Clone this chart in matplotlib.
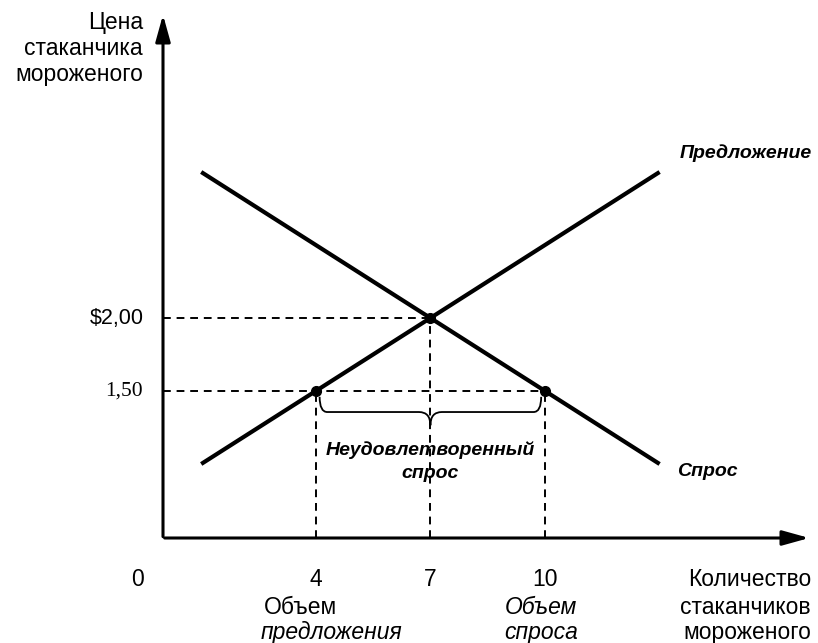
import matplotlib.pyplot as plt
from matplotlib.path import Path
from matplotlib.patches import PathPatch

plt.rcParams['font.family'] = ['Liberation Sans', 'DejaVu Sans']

# Data
supply_q = [1, 13]
supply_p = [1.0, 3.0]
demand_q = [1, 13]
demand_p = [3.0, 1.0]
eq_q, eq_p = 7, 2.0
low_p = 1.5
qs_low, qd_low = 4, 10
tick_q = [0, 4, 7, 10]
tick_q_labels = ['0', '4', '7', '10']

# pixel -> data helpers for placing labels
X0, SX = 163, 38.2
Y2, SY = 318, 146


def qx(px):
    return (px - X0) / SX


def py(pix):
    return 2 - (pix - Y2) / SY


fig = plt.figure(figsize=(8.18, 6.43), dpi=100)
ax = fig.add_axes([0, 0, 1, 1])
ax.set_xlim(qx(0), qx(818))
ax.set_ylim(py(643), py(0))
ax.axis('off')

base = py(538)  # level of the quantity axis

# axes with arrows
ax.annotate('', xy=(0, py(12)), xytext=(0, base - 0.01),
            arrowprops=dict(arrowstyle='-|>,head_length=0.9,head_width=0.25',
                            lw=2.2, color='black', mutation_scale=18))
ax.annotate('', xy=(qx(812), base), xytext=(-0.03, base),
            arrowprops=dict(arrowstyle='-|>,head_length=0.9,head_width=0.25',
                            lw=2.2, color='black', mutation_scale=18))

# curves
ax.plot(supply_q, supply_p, color='black', lw=3, solid_capstyle='butt')
ax.plot(demand_q, demand_p, color='black', lw=3, solid_capstyle='butt')

# dashed guides
dash = dict(color='black', lw=1.4, linestyle=(0, (4, 3)))
ax.plot([0, eq_q], [eq_p, eq_p], **dash)
ax.plot([0, qd_low], [low_p, low_p], **dash)
for q, p in [(qs_low, low_p), (eq_q, eq_p), (qd_low, low_p)]:
    ax.plot([q, q], [base, p], **dash)

ax.plot([qs_low, eq_q, qd_low], [low_p, eq_p, low_p], 'o', color='black', ms=7)

# brace for shortage
x0, x1, xm = qs_low + 0.1, qd_low - 0.1, eq_q
yt, yb, ytip = low_p - 0.04, low_p - 0.144, low_p - 0.235
verts = [(x0, yt), (x0, yb), (x0 + 0.2, yb),
         (xm - 0.3, yb), (xm, yb), (xm, ytip),
         (xm, yb), (xm + 0.3, yb),
         (x1 - 0.2, yb), (x1, yb), (x1, yt)]
codes = [Path.MOVETO, Path.CURVE3, Path.CURVE3,
         Path.LINETO, Path.CURVE3, Path.CURVE3,
         Path.CURVE3, Path.CURVE3,
         Path.LINETO, Path.CURVE3, Path.CURVE3]
ax.add_patch(PathPatch(Path(verts, codes), fill=False, lw=1.3, color='black'))

# labels
fs = 16.5
for i, line in enumerate(['Цена', 'стаканчика', 'мороженого']):
    ax.text(qx(143), py(22 + 26.5 * i), line, ha='right', va='center', fontsize=fs)
ax.text(qx(144), eq_p, '$2,00', ha='right', va='center', fontsize=15.5)
ax.text(qx(143), low_p, '1,50', ha='right', va='center', fontsize=15.5,
        family='Liberation Serif')

row1, row2, row3 = py(579), py(607), py(632)
for q, lab in zip(tick_q, tick_q_labels):
    xq = q if q else qx(138)
    ax.text(xq, row1, lab, ha='center', va='center', fontsize=fs)
ax.text(qx(264), row2, 'Объем', ha='left', va='center', fontsize=fs)
ax.text(qx(261), row3, 'предложения', ha='left', va='center', fontsize=fs,
        style='italic')
ax.text(qd_low - 0.1, row2, 'Объем', ha='center', va='center', fontsize=fs,
        style='italic')
ax.text(qd_low - 0.1, row3, 'спроса', ha='center', va='center', fontsize=fs,
        style='italic')
for line, r in zip(['Количество', 'стаканчиков', 'мороженого'], [row1, row2, row3]):
    ax.text(qx(811), r, line, ha='right', va='center', fontsize=fs)

ax.text(qx(680), py(153), 'Предложение', ha='left', va='center', fontsize=14,
        style='italic', weight='bold')
ax.text(qx(677), py(472), 'Спрос', ha='left', va='center', fontsize=14,
        style='italic', weight='bold')
ax.text(eq_q, py(450), 'Неудовлетворенный', ha='center', va='center',
        fontsize=14, style='italic', weight='bold')
ax.text(eq_q, py(474), 'спрос', ha='center', va='center',
        fontsize=14, style='italic', weight='bold')

fig.savefig('out.png', dpi=100)
